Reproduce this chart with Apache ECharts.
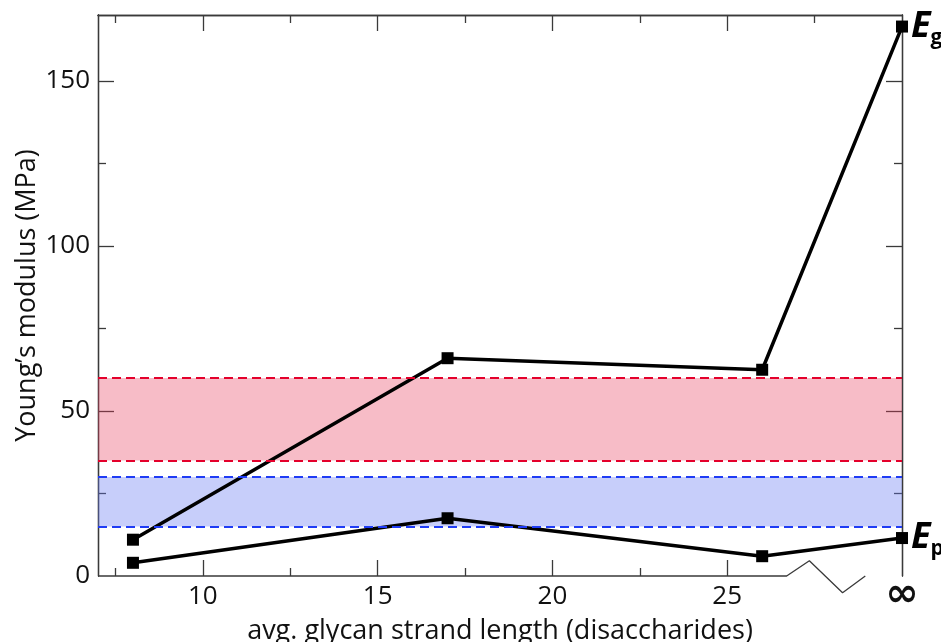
<!DOCTYPE html>
<html>
<head>
<meta charset="utf-8">
<script src="https://cdn.jsdelivr.net/npm/echarts@6/dist/echarts.min.js"></script>
<style>
  html, body { margin: 0; padding: 0; background: #fff; }
  #chart { width: 941px; height: 642px; }
</style>
</head>
<body>
<div id="chart"></div>
<script>
// strand length; 30 stands for the "infinity" column
const strandLength = [8, 17, 26, 30];
const egValues = [11, 66, 62.5, 166.5];
const epValues = [4, 17.5, 6, 11.5];
const redBand = [35, 60];
const blueBand = [15, 30];
const xMajorTicks = [10, 15, 20, 25];
const xLabelValues = [10, 15, 20, 25, 30];
const xMinorBottom = [7.5, 12.5, 17.5, 22.5];
const xMinorTop = [7.5, 12.5, 17.5, 22.5, 27.5];
const yLabelValues = [0, 50, 100, 150];
const yMajorTicks = [50, 100, 150];
const yMinorTicks = [25, 75, 125];
// broken bottom axis: straight run then a zigzag before the infinity column
const axisBreak = [[7, 0], [26.7, 0], [27.35, 4.6], [28.3, -5.1], [28.95, 0]];

const font = "Open Sans";
const axisColor = "#3a3a3a";

function xAxisOf(position, ticks, len, labels) {
  return {
    type: "value",
    position: position,
    min: 7,
    max: 30,
    axisLine: { show: position === "top", onZero: false, lineStyle: { color: axisColor, width: 1.3 } },
    splitLine: { show: false },
    axisTick: { show: true, inside: true, length: len, customValues: ticks,
      lineStyle: { color: axisColor, width: 1.3 } },
    axisLabel: labels ? {
      show: true,
      customValues: xLabelValues,
      margin: 8,
      fontFamily: font,
      fontSize: 26,
      color: "#111",
      formatter: v => (v === 30 ? "{inf|\u221e}" : String(v)),
      rich: { inf: { fontFamily: "DejaVu Sans", fontWeight: "bold", fontSize: 40, color: "#111",
        lineHeight: 24 } }
    } : { show: false }
  };
}

function yAxisOf(position, ticks, len, labels) {
  return {
    type: "value",
    position: position,
    min: 0,
    max: 170,
    axisLine: { show: true, onZero: false, lineStyle: { color: axisColor, width: 1.3 } },
    splitLine: { show: false },
    axisTick: { show: true, inside: true, length: len, customValues: ticks,
      lineStyle: { color: axisColor, width: 1.3 } },
    axisLabel: labels ? {
      show: true,
      customValues: yLabelValues,
      margin: 8,
      fontFamily: font,
      fontSize: 26,
      color: "#111"
    } : { show: false }
  };
}

const xAxes = [
  xAxisOf("bottom", xMajorTicks, 16, true),
  xAxisOf("bottom", xMinorBottom, 8, false),
  xAxisOf("top", xMajorTicks, 16, false),
  xAxisOf("top", xMinorTop, 8, false)
];
xAxes[0].name = "avg. glycan strand length (disaccharides)";
xAxes[0].nameLocation = "middle";
xAxes[0].nameGap = 42;
xAxes[0].nameMoveOverlap = false;
xAxes[0].nameTextStyle = { fontFamily: font, fontSize: 27, color: "#111" };

const yAxes = [
  yAxisOf("left", yMajorTicks, 16, true),
  yAxisOf("left", yMinorTicks, 8, false),
  yAxisOf("right", yMajorTicks, 16, false),
  yAxisOf("right", yMinorTicks, 8, false)
];
yAxes[0].name = "Young\u2019s modulus (MPa)";
yAxes[0].nameLocation = "middle";
yAxes[0].nameGap = 57;
yAxes[0].nameMoveOverlap = false;
yAxes[0].nameTextStyle = { fontFamily: font, fontSize: 27, color: "#111" };

const egData = strandLength.map((x, i) => [x, egValues[i]]);
const epData = strandLength.map((x, i) => [x, epValues[i]]);

function endLabel(sub) {
  return {
    show: true,
    distance: 9,
    formatter: "{e|E}{s|" + sub + "}",
    rich: {
      e: { fontFamily: font, fontWeight: "bold", fontStyle: "italic", fontSize: 36, color: "#000" },
      s: { fontFamily: font, fontWeight: "bold", fontSize: 21, color: "#000", padding: [0, 0, -22, 0] }
    }
  };
}

function bandSeries(band, fill, stroke) {
  return {
    type: "line",
    data: [],
    z: 4,
    silent: true,
    markArea: {
      silent: true,
      itemStyle: { color: fill },
      data: [[{ yAxis: band[0] }, { yAxis: band[1] }]]
    },
    markLine: {
      silent: true,
      symbol: "none",
      label: { show: false },
      lineStyle: { color: stroke, width: 2.2, type: [9, 5] },
      data: [{ yAxis: band[0] }, { yAxis: band[1] }]
    }
  };
}

const chart = echarts.init(document.getElementById("chart"));
chart.setOption({
  backgroundColor: "#fff",
  animation: false,
  grid: { left: 98, right: 39, top: 15, bottom: 66, containLabel: false, outerBoundsMode: "none" },
  xAxis: xAxes,
  yAxis: yAxes,
  series: [
    {
      name: "Eg", type: "line", data: egData, z: 2,
      showSymbol: false, clip: false,
      lineStyle: { color: "#000", width: 3.5 },
      endLabel: endLabel("g")
    },
    {
      name: "Ep", type: "line", data: epData, z: 2,
      showSymbol: false, clip: false,
      lineStyle: { color: "#000", width: 3.5 },
      endLabel: endLabel("p")
    },
    bandSeries(redBand, "rgba(232, 60, 92, 0.34)", "#e4002b"),
    bandSeries(blueBand, "rgba(100, 118, 242, 0.36)", "#1f3cf5"),
    {
      type: "scatter", data: egData, z: 6, symbol: "rect", symbolSize: 12,
      itemStyle: { color: "#000", opacity: 1 }, silent: true
    },
    {
      type: "scatter", data: epData, z: 6, symbol: "rect", symbolSize: 12,
      itemStyle: { color: "#000", opacity: 1 }, silent: true
    },
    {
      type: "line", data: axisBreak, z: 3, clip: false, showSymbol: false, silent: true,
      lineStyle: { color: axisColor, width: 1.3 }
    }
  ]
});
</script>
</body>
</html>
